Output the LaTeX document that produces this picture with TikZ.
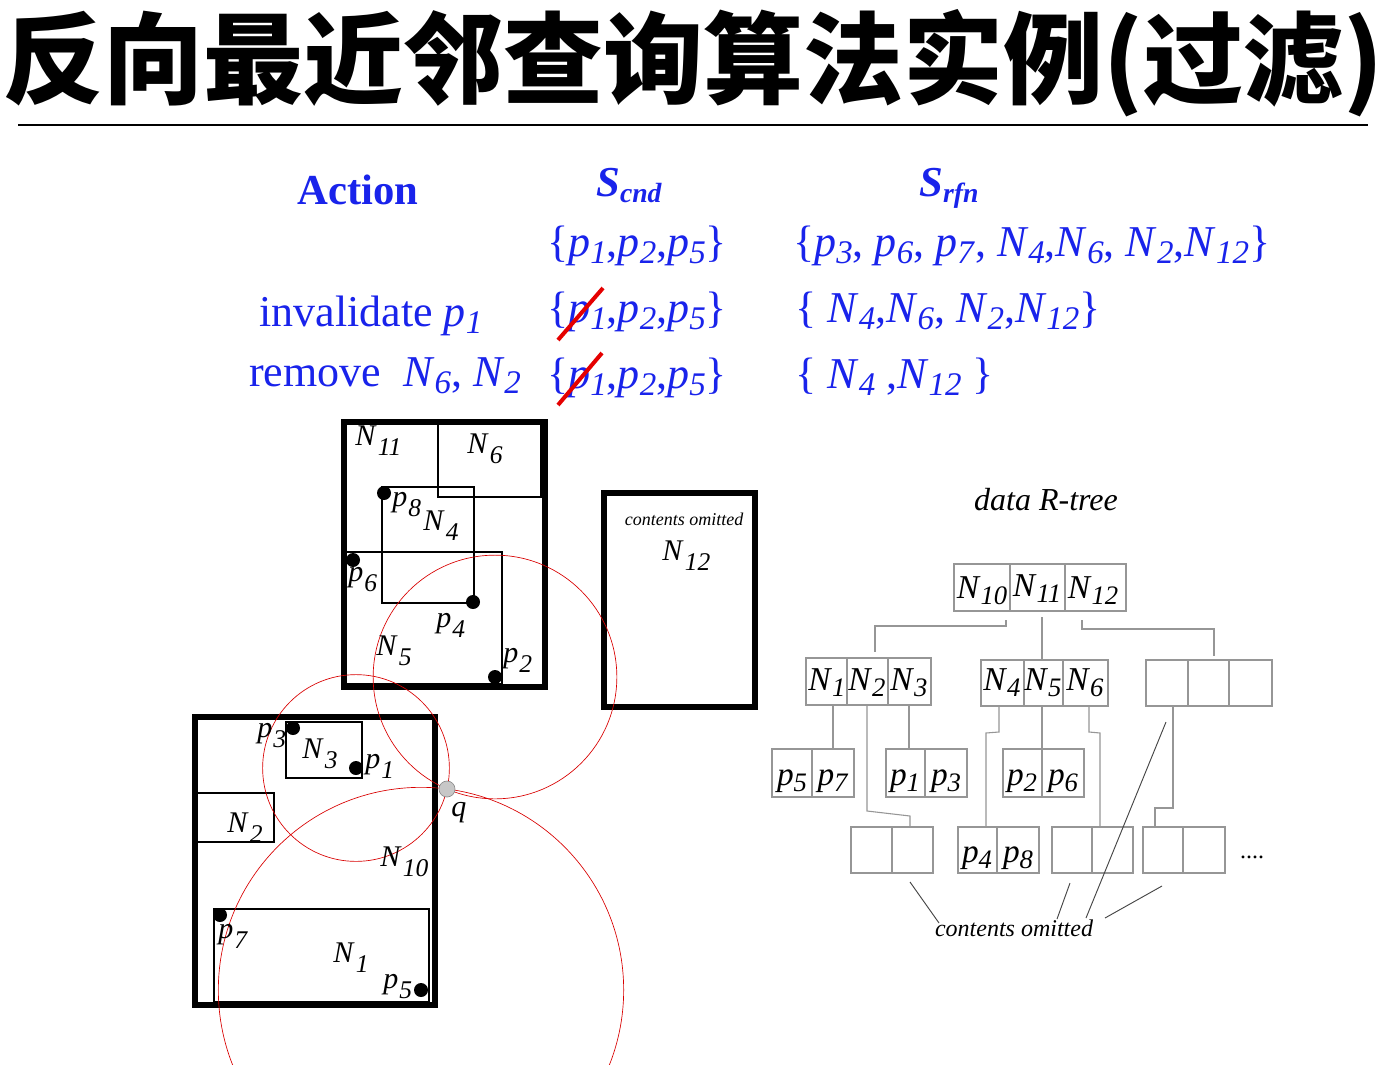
\documentclass[tikz,border=0pt]{standalone}
\usepackage{fontspec}
\setmainfont{Liberation Serif}
\newfontfamily\cjk{Noto Sans CJK SC}
\usepackage{graphicx}
\usetikzlibrary{calc}
\definecolor{tblue}{RGB}{25,35,235}
\definecolor{cred}{RGB}{225,60,60}
\definecolor{tgray}{RGB}{150,150,150}
\definecolor{pgray}{RGB}{70,70,70}
\newcommand\st[1]{\raisebox{-0.17em}{\scalebox{0.75}{#1}}}
\newcommand\sd[1]{\raisebox{-0.35em}{\scalebox{0.85}{#1}}}
\newcommand\sr[1]{\raisebox{-0.18em}{\scalebox{0.8}{#1}}}
\newcommand\ti[2]{\textit{#1}\st{\textit{#2}}}
\newcommand\di[2]{\textit{#1}\hspace{0.04em}\sd{\textit{#2}}}
\newcommand\ri[2]{\textit{#1}\sr{\textit{#2}}}
\begin{document}
\begin{tikzpicture}[x=0.75pt,y=-0.75pt,
  tab/.style={text=tblue,font=\fontsize{33}{40}\selectfont,inner sep=0,anchor=base west},
  hdr/.style={text=tblue,font=\fontsize{32}{38}\selectfont\bfseries,inner sep=0,anchor=base west},
  lab/.style={font=\fontsize{22.5}{27}\selectfont,inner sep=0,anchor=base west},
  rl/.style={font=\fontsize{25}{30}\selectfont,inner sep=0,anchor=base},
  thickbox/.style={line width=3.8pt},
  thinbox/.style={line width=2pt},
  pt/.style={circle,fill=black,inner sep=0,minimum size=10.5pt},
  qpt/.style={circle,fill=black!22,draw=black!45,line width=0.5pt,inner sep=0,minimum size=12pt},
  rc/.style={red!85!black,line width=0.5pt},
  strike/.style={draw=red!90!black,line width=3pt},
  cellbox/.style={draw=tgray,line width=0.8pt},
  tl/.style={draw=tgray,line width=0.8pt},
  pl/.style={draw=pgray,line width=0.7pt}]
\useasboundingbox (0,0) rectangle (1384,1064);
\fill[white] (0,0) rectangle (1384,1064);

% title
\node[font=\cjk\bfseries\fontsize{75}{80}\selectfont,inner sep=0,anchor=west] (title) at (3,63) {反向最近邻查询算法实例(过滤)};
\draw[line width=2pt] (18,125) -- (1368,125);

% table headers
\node[hdr,anchor=base] (hact) at (358,204) {Action};
\node[hdr] (hcnd) at (596,196) {\textit{S}\raisebox{-0.15em}{\scalebox{0.65}{\textit{cnd}}}};
\node[hdr] (hrfn) at (919,196) {\textit{S}\raisebox{-0.15em}{\scalebox{0.65}{\textit{rfn}}}};

% rows
\node[tab] (s1) at (547,256) {\{\ti{p}{1},\ti{p}{2},\ti{p}{5}\}};
\node[tab] (r1) at (793,256) {\{\ti{p}{3}, \ti{p}{6}, \ti{p}{7}, \ti{N}{4},\ti{N}{6}, \ti{N}{2},\ti{N}{12}\}};
\node[tab] (a2) at (259,326) {invalidate \ti{p}{1}};
\node[tab] (s2) at (547,322) {\{\ti{p}{1},\ti{p}{2},\ti{p}{5}\}};
\node[tab] (r2) at (795,322) {\{ \ti{N}{4},\ti{N}{6}, \ti{N}{2},\ti{N}{12}\}};
\node[tab] (a3) at (249,386) {remove\ \ \ti{N}{6}, \ti{N}{2}};
\node[tab] (s3) at (547,388) {\{\ti{p}{1},\ti{p}{2},\ti{p}{5}\}};
\node[tab] (r3) at (795,388) {\{ \ti{N}{4} ,\ti{N}{12} \}};
\draw[strike] ($(s2.base west)+(11,18)$) -- ($(s2.base west)+(56,-34)$);
\draw[strike] ($(s3.base west)+(11,17)$) -- ($(s3.base west)+(55,-35)$);

% left diagram: inner boxes
\draw[thinbox] (438,422) rectangle (541,497);
\draw[thinbox] (382,487) rectangle (474,603);
\draw[thinbox] (345,552) rectangle (502,684);
\draw[thinbox] (286,722) rectangle (362,778);
\draw[thinbox] (197,793) rectangle (274,842);
\draw[thinbox] (214,909) rectangle (429,1002);
% outer boxes
\draw[thickbox] (344,422) rectangle (545,687);
\draw[thickbox] (604,493) rectangle (755,707);
\draw[thickbox] (195,717) rectangle (435,1005);

% points
\node[pt] (p8) at (384,493) {};
\node[pt] (p6) at (353,560) {};
\node[pt] (p4) at (473,602) {};
\node[pt] (p2) at (495,677) {};
\node[pt] (p3) at (293,728) {};
\node[pt] (p1) at (356,768) {};
\node[pt] (p7) at (220,915) {};
\node[pt] (p5) at (421,990) {};
\coordinate (qc) at (447,789);

% circles
\begin{scope}
\clip (0,0) rectangle (1384,1064);
\foreach \c in {p1,p2,p5}{
  \draw[rc] let \p1=($(qc)-(\c.center)$), \n1={veclen(\x1,\y1)} in (\c.center) circle[radius=\n1];
}
\end{scope}
\node[qpt] (q) at (qc) {};

% labels left diagram
\node[lab] (lN11) at (355,445) {\di{N}{11}};
\node[lab] (lN6) at (467,453) {\di{N}{6}};
\node[lab] (lp8) at (392,506) {\di{p}{8}};
\node[lab] (lN4) at (423,530) {\di{N}{4}};
\node[lab] (lp6) at (348,581) {\di{p}{6}};
\node[lab] (lp4) at (436,627) {\di{p}{4}};
\node[lab] (lN5) at (376,655) {\di{N}{5}};
\node[lab] (lp2) at (503,662) {\di{p}{2}};
\node[font=\fontsize{13.5}{16}\selectfont\itshape,inner sep=0,anchor=base] (co1) at (684,525) {contents omitted};
\node[lab] (lN12) at (662,560) {\di{N}{12}};
\node[lab] (lp3) at (257,737) {\di{p}{3}};
\node[lab] (lN3) at (302,758) {\di{N}{3}};
\node[lab] (lp1) at (365,768) {\di{p}{1}};
\node[lab] (lN2) at (227,832) {\di{N}{2}};
\node[lab] (lN10) at (380,866) {\di{N}{10}};
\node[lab] (lp7) at (218,938) {\di{p}{7}};
\node[lab] (lN1) at (333,962) {\di{N}{1}};
\node[lab] (lp5) at (383,988) {\di{p}{5}};
\node[lab] (lq) at (451,816) {\textit{q}};

% R-tree
\node[font=\fontsize{24}{29}\selectfont\itshape,inner sep=0,anchor=base] (rt) at (1046,510) {data R-tree};
% root
\draw[cellbox] (954,564) rectangle (1126,611);
\draw[cellbox] (1010,564) -- (1010,611) (1065,564) -- (1065,611);
\node[rl] (tN10) at (982,598) {\ri{N}{10}};
\node[rl] (tN11) at (1037,596) {\ri{N}{11}};
\node[rl] (tN12) at (1093,598) {\ri{N}{12}};
% level 2
\draw[cellbox] (806,658) rectangle (931,705);
\draw[cellbox] (847,658) -- (847,705) (888,658) -- (888,705);
\node[rl] (tN1) at (827,690) {\ri{N}{1}};
\node[rl] (tN2) at (867,690) {\ri{N}{2}};
\node[rl] (tN3) at (909,690) {\ri{N}{3}};
\draw[cellbox] (981,660) rectangle (1108,706);
\draw[cellbox] (1024,660) -- (1024,706) (1063,660) -- (1063,706);
\node[rl] (tN4) at (1002,690) {\ri{N}{4}};
\node[rl] (tN5) at (1043,690) {\ri{N}{5}};
\node[rl] (tN6) at (1085,690) {\ri{N}{6}};
\draw[cellbox] (1146,660) rectangle (1272,706);
\draw[cellbox] (1188,660) -- (1188,706) (1229,660) -- (1229,706);
% level 3
\draw[cellbox] (772,749) rectangle (854,797);
\draw[cellbox] (812,749) -- (812,797);
\node[rl] (tp5) at (792,785) {\ri{p}{5}};
\node[rl] (tp7) at (833,785) {\ri{p}{7}};
\draw[cellbox] (886,749) rectangle (967,797);
\draw[cellbox] (925,749) -- (925,797);
\node[rl] (tp1) at (905,785) {\ri{p}{1}};
\node[rl] (tp3) at (946,785) {\ri{p}{3}};
\draw[cellbox] (1003,749) rectangle (1084,797);
\draw[cellbox] (1042,749) -- (1042,797);
\node[rl] (tp2) at (1022,785) {\ri{p}{2}};
\node[rl] (tp6) at (1063,785) {\ri{p}{6}};
% level 4
\draw[cellbox] (851,827) rectangle (933,873);
\draw[cellbox] (892,827) -- (892,873);
\draw[cellbox] (958,827) rectangle (1039,873);
\draw[cellbox] (997,827) -- (997,873);
\node[rl] (tp4) at (977,862) {\ri{p}{4}};
\node[rl] (tp8) at (1018,862) {\ri{p}{8}};
\draw[cellbox] (1052,827) rectangle (1133,873);
\draw[cellbox] (1092,827) -- (1092,873);
\draw[cellbox] (1143,827) rectangle (1225,873);
\draw[cellbox] (1183,827) -- (1183,873);
\node[font=\fontsize{18}{22}\selectfont,inner sep=0,anchor=base] (dots) at (1252,858) {....};

% tree connectors
\draw[tl] (1006,620) -- (1006,626) -- (875,626) -- (875,652);
\draw[tl] (1042,617) -- (1042,659);
\draw[tl] (1082,620) -- (1082,629) -- (1214,629) -- (1214,656);
\draw[tl] (833,705) -- (833,749);
\draw[tl] (867,705) -- (867,811) -- (910,816) -- (910,827);
\draw[tl] (909,705) -- (909,749);
\draw[tl] (999,706) -- (999,732) -- (986,733) -- (986,827);
\draw[tl] (1042,706) -- (1042,749);
\draw[tl] (1089,706) -- (1089,732) -- (1100,733) -- (1100,827);
\draw[tl] (1173,706) -- (1173,808) -- (1155,808) -- (1155,827);

% contents omitted pointers
\node[font=\fontsize{18}{22}\selectfont\itshape,inner sep=0,anchor=base] (co2) at (1014,936) {contents omitted};
\draw[pl] (910,882) -- (939,923);
\draw[pl] (1070,883) -- (1057,919);
\draw[pl] (1166,722) -- (1086,918);
\draw[pl] (1162,886) -- (1105,918);
\end{tikzpicture}
\end{document}
